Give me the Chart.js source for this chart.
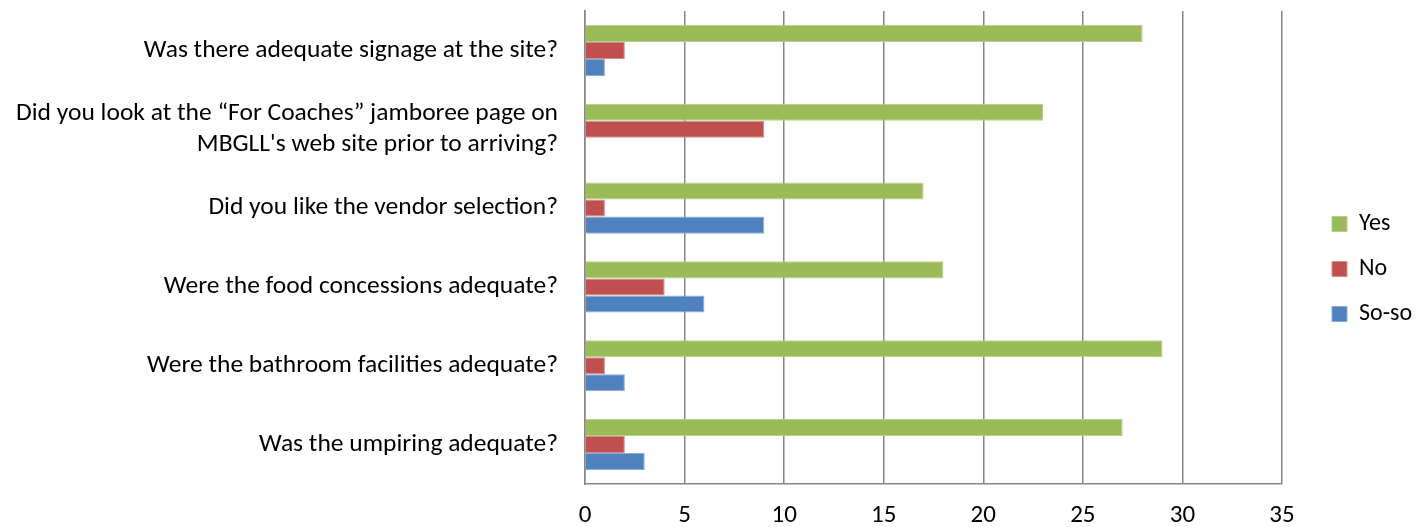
<!DOCTYPE html>
<html>
<head>
<meta charset="utf-8">
<script src="https://cdn.jsdelivr.net/npm/chart.js@4/dist/chart.umd.min.js"></script>
<style>
  html, body { margin: 0; padding: 0; background: #fff; }
  #wrap { width: 1416px; height: 527px; }
</style>
</head>
<body>
<div id="wrap"><canvas id="chart"></canvas></div>
<script>
const questions = [
    `Was there adequate signage at the site?`,
    [`Did you look at the \u201CFor Coaches\u201D jamboree page on`, `MBGLL's web site prior to arriving?`],
    `Did you like the vendor selection?`,
    `Were the food concessions adequate?`,
    `Were the bathroom facilities adequate?`,
    `Was the umpiring adequate?`
];
const yesCounts   = [28, 23, 17, 18, 29, 27];
const noCounts    = [2, 9, 1, 4, 1, 2];
const sosoCounts  = [1, 0, 9, 6, 2, 3];
const xTicks = [0, 5, 10, 15, 20, 25, 30, 35];

const fontFamily = `Carlito, Lato, "Open Sans", sans-serif`;
const gridGray = `#868686`;

// fixed legend width, pushed against the right edge like the original
const legendPlace = {
    id: `legendPlace`,
    afterInit(chart) {
        const lg = chart.legend;
        if (!lg) return;
        const fit = lg.fit;
        lg.fit = function () {
            fit.call(this);
            this.width = 105;
        };
    },
    afterLayout(chart) {
        const lg = chart.legend;
        if (!lg) return;
        const shift = chart.width - lg.right;
        lg.left += shift;
        lg.right += shift;
    }
};

new Chart(document.getElementById(`chart`).getContext(`2d`), {
    type: `bar`,
    data: {
        labels: questions,
        datasets: [
            { label: `Yes`, data: yesCounts, backgroundColor: `#9BBB59`, borderColor: `#B5D08A`, borderWidth: 1 },
            { label: `No`, data: noCounts, backgroundColor: `#C0504D`, borderColor: `#D68A88`, borderWidth: 1 },
            { label: `So-so`, data: sosoCounts, backgroundColor: `#4F81BD`, borderColor: `#8AABD6`, borderWidth: 1 }
        ]
    },
    options: {
        indexAxis: `y`,
        responsive: true,
        maintainAspectRatio: false,
        animation: false,
        datasets: { bar: { categoryPercentage: 0.65, barPercentage: 1 } },
        layout: { padding: { top: 11, right: 0, bottom: 0, left: 0 } },
        scales: {
            x: {
                min: 0,
                max: 35,
                afterBuildTicks: scale => { scale.ticks = xTicks.map(v => ({ value: v })); },
                afterFit: scale => {
                    scale.height = 43;
                    scale.paddingLeft = 0;
                    scale.paddingRight = 134; // space right of the plot, legend included
                },
                grid: { color: gridGray, lineWidth: 1.5, drawTicks: false },
                border: { display: true, color: gridGray, width: 1.5 },
                ticks: { color: `#000`, font: { family: fontFamily, size: 25 }, padding: 17 }
            },
            y: {
                afterFit: scale => {
                    scale.width = 585;
                    scale.paddingTop = 0;
                    scale.paddingBottom = 0;
                },
                grid: { display: false, drawTicks: false },
                border: { display: true, color: gridGray, width: 1.5 },
                ticks: { color: `#000`, font: { family: fontFamily, size: 25.5, lineHeight: 1.22 }, padding: 27 }
            }
        },
        plugins: {
            tooltip: { enabled: false },
            legend: {
                position: `right`,
                align: `center`,
                labels: {
                    color: `#000`,
                    font: { family: fontFamily, size: 24 },
                    boxWidth: 15,
                    boxHeight: 15,
                    padding: 21
                }
            }
        }
    },
    plugins: [legendPlace]
});
</script>
</body>
</html>
